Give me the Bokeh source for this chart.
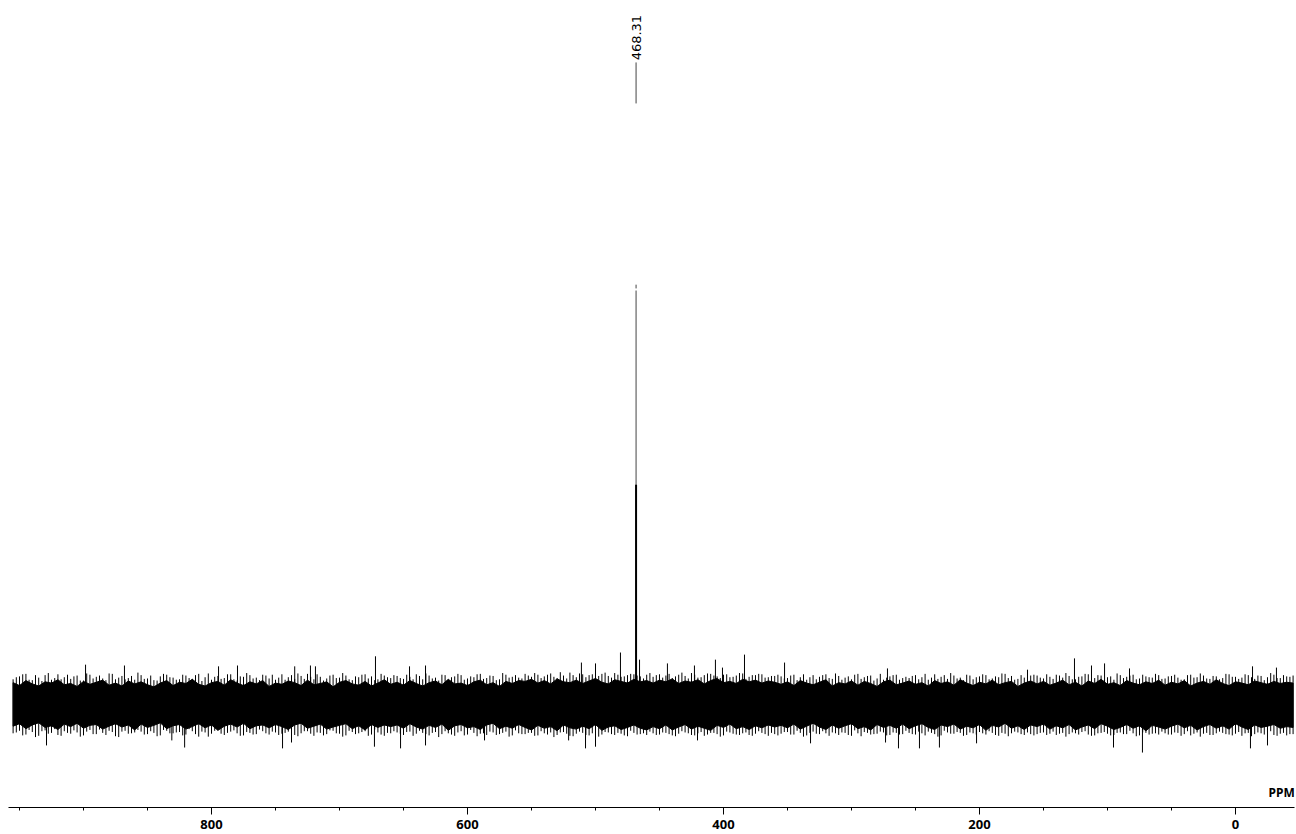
from math import pi
from bokeh.plotting import figure
from bokeh.models import Range1d, SingleIntervalTicker, Label
from bokeh.embed import file_html
from bokeh.resources import INLINE

# ---------------- data (relative intensity, peak = 100) ----------------
peak_ppm = 468.31
peak_label = "468.31"
peak_main_top = 98.8
peak_tip = [99.3, 100.2]
peak_thick_top = 52.4

# sampling grid of the noise band (ppm)
grid_ppm = list(range(955, -46, -5))

# solid core of the noise band: upper edge
top_fill = [
    5.1, 4.4, 5.6, 4.8, 4.3, 5.3, 5.0, 5.8, 4.6, 4.9, 4.2, 5.4, 4.7, 5.2, 5.7, 4.5, 5.0, 4.3, 5.5, 4.8,
    5.3, 4.6, 4.1, 5.0, 5.6, 4.4, 5.2, 4.9, 5.9, 4.7, 4.3, 5.1, 5.4, 4.5, 5.8, 5.0, 4.4, 5.3, 4.8, 5.6,
    4.2, 5.0, 4.7, 5.5, 5.1, 4.4, 5.7, 4.6, 4.9, 5.3, 4.1, 5.2, 5.6, 4.8, 4.5, 5.4, 4.3, 5.0, 5.8, 4.7,
    5.2, 4.5, 5.6, 4.9, 4.3, 5.1, 5.5, 4.6, 5.9, 4.8, 5.0, 4.4, 5.3, 5.7, 4.6, 5.1, 4.2, 5.4, 4.9, 5.6,
    5.4, 5.9, 5.0, 5.6, 4.8, 6.0, 5.3, 5.1, 5.7, 4.9, 5.5, 6.1, 5.2, 4.8, 5.8, 5.4, 5.0, 5.9, 5.3, 5.6,
    5.0, 5.7, 5.3, 6.0, 4.9, 5.5, 5.2, 5.8, 4.8, 5.6, 6.1, 5.1, 5.4, 4.9, 5.9, 5.3, 5.7, 5.0, 5.5, 5.2,
    4.7, 5.3, 4.4, 5.6, 5.0, 4.6, 5.2, 5.8, 4.3, 5.1, 4.8, 5.5, 4.5, 5.4, 4.9, 4.2, 5.3, 5.7, 4.6, 5.0,
    5.5, 4.7, 5.1, 4.3, 5.6, 4.9, 5.3, 4.5, 5.8, 5.0, 4.4, 5.2, 4.8, 5.7, 4.6, 5.1, 5.4, 4.2, 5.0, 5.5,
    4.8, 5.4, 4.5, 5.0, 5.7, 4.6, 5.2, 4.3, 5.5, 4.9, 5.9, 4.7, 5.1, 4.4, 5.6, 5.0, 4.6, 5.3, 4.9, 5.7,
    4.5, 5.2, 4.8, 5.6, 4.3, 5.0, 5.4, 4.7, 5.8, 4.9, 4.4, 5.3, 5.0, 4.6, 5.5, 5.1, 4.7, 5.4, 4.9, 5.2,
    5.0,
]
# solid core of the noise band: lower edge
bot_fill = [
    -5.3, -4.7, -5.9, -5.0, -4.5, -5.6, -5.2, -6.1, -4.8, -5.4, -4.6, -5.8, -5.1, -4.9, -6.0, -5.3, -4.7, -5.5, -5.0, -6.2,
    -4.8, -5.6, -5.1, -4.5, -5.9, -5.2, -4.9, -6.0, -5.4, -4.7, -5.7, -5.0, -6.3, -5.3, -4.8, -5.5, -4.6, -5.9, -5.2, -5.0,
    -5.7, -4.9, -5.4, -6.1, -5.0, -4.6, -5.8, -5.3, -4.8, -6.0, -5.5, -5.1, -4.7, -5.9, -5.2, -6.2, -4.9, -5.6, -5.0, -5.4,
    -5.0, -5.8, -4.7, -5.5, -6.0, -5.1, -5.6, -4.8, -6.3, -5.2, -4.9, -5.7, -5.4, -6.1, -5.0, -4.6, -5.9, -5.3, -5.8, -4.9,
    -5.6, -6.2, -5.1, -5.8, -5.4, -6.4, -5.0, -5.7, -6.0, -5.3, -5.9, -4.9, -6.3, -5.5, -5.2, -6.1, -5.6, -5.0, -5.8, -6.2,
    -5.4, -5.9, -5.0, -6.2, -5.5, -4.9, -6.0, -5.3, -5.8, -6.3, -5.1, -5.6, -4.8, -5.9, -5.4, -6.1, -5.2, -5.7, -5.0, -5.5,
    -5.1, -5.7, -4.8, -6.0, -5.3, -4.6, -5.5, -6.1, -5.0, -5.8, -5.2, -4.7, -5.9, -5.4, -6.2, -4.9, -5.6, -5.1, -5.8, -4.8,
    -5.9, -5.2, -4.7, -5.6, -6.1, -5.0, -5.4, -4.8, -6.0, -5.3, -5.7, -4.9, -6.3, -5.1, -5.5, -4.6, -5.8, -5.2, -6.1, -5.0,
    -5.4, -4.8, -6.0, -5.2, -5.7, -4.9, -6.2, -5.5, -5.0, -5.9, -4.7, -5.3, -6.1, -5.6, -4.9, -5.8, -5.2, -6.4, -5.1, -5.5,
    -6.0, -5.3, -4.8, -5.7, -5.1, -6.2, -5.4, -4.9, -5.8, -5.2, -6.0, -4.7, -5.5, -6.1, -5.0, -5.6, -5.3, -4.9, -5.8, -5.4,
    -5.6,
]
# thin noise maxima half-way between grid points
teeth_top = [
    6.4, 7.1, 5.8, 6.9, 5.5, 7.4, 6.2, 5.9, 7.0, 6.6, 5.6, 7.3, 6.1, 6.8, 5.7, 7.2, 6.3, 5.9, 6.7, 7.5,
    6.0, 6.8, 5.6, 7.2, 6.4, 5.8, 7.0, 6.2, 6.9, 5.5, 7.3, 6.5, 6.0, 7.1, 5.9, 6.6, 7.4, 6.1, 5.7, 6.8,
    7.0, 6.3, 5.8, 6.9, 7.3, 6.0, 6.5, 7.1, 5.6, 6.8, 6.2, 7.4, 5.9, 6.6, 7.0, 6.1, 5.7, 7.2, 6.4, 6.9,
    6.2, 7.0, 5.9, 6.7, 7.3, 6.1, 5.6, 6.9, 6.4, 7.2, 5.8, 6.6, 7.1, 6.0, 6.8, 5.7, 7.4, 6.3, 6.9, 6.1,
    6.8, 7.4, 6.2, 7.0, 6.5, 7.6, 6.1, 6.9, 7.3, 6.4, 7.1, 6.7, 7.5, 6.3, 7.0, 6.6, 7.2, 6.8, 6.1, 7.4,
    6.9, 6.3, 7.2, 6.6, 7.5, 6.1, 7.0, 6.4, 7.3, 6.8, 6.2, 7.1, 6.5, 7.4, 6.0, 6.9, 7.2, 6.3, 6.7, 7.0,
    6.1, 6.8, 5.7, 7.1, 6.4, 5.9, 6.9, 6.2, 7.3, 5.8, 6.6, 7.0, 6.0, 6.7, 5.6, 7.2, 6.3, 6.9, 5.8, 6.5,
    6.7, 5.9, 7.2, 6.3, 6.0, 6.9, 7.4, 6.1, 5.7, 6.8, 6.4, 7.1, 5.9, 6.6, 7.3, 6.2, 5.8, 6.9, 6.5, 7.0,
    6.3, 7.1, 6.0, 6.8, 7.4, 5.9, 6.5, 7.2, 6.1, 6.9, 5.7, 6.6, 7.3, 6.2, 6.8, 5.9, 7.0, 6.4, 7.2, 6.0,
    6.6, 7.0, 5.8, 6.9, 6.3, 7.3, 6.1, 6.7, 5.9, 7.2, 6.5, 6.0, 7.1, 6.4, 6.8, 5.7, 7.4, 6.2, 6.9, 6.5,
    6.6,
]
# thin noise minima half-way between grid points
teeth_bot = [
    -6.8, -7.5, -6.2, -7.9, -6.5, -7.1, -6.0, -7.6, -6.9, -6.3, -7.8, -6.6, -7.2, -6.1, -7.4, -6.7, -7.9, -6.4, -7.0, -6.2,
    -7.3, -6.5, -7.7, -6.2, -7.0, -6.8, -7.5, -6.0, -7.2, -6.6, -7.8, -6.4, -7.1, -6.9, -6.3, -7.6, -6.7, -7.3, -6.1, -7.0,
    -6.6, -7.4, -6.9, -6.2, -7.7, -6.5, -7.1, -6.8, -7.5, -6.3, -7.0, -7.8, -6.4, -7.2, -6.7, -7.6, -6.1, -7.3, -6.9, -6.5,
    -7.1, -6.7, -7.6, -6.4, -7.2, -6.9, -7.9, -6.5, -7.3, -6.8, -7.5, -6.2, -7.7, -7.0, -6.6, -7.4, -6.9, -7.8, -6.3, -7.2,
    -6.9, -7.6, -6.5, -7.3, -7.9, -6.8, -7.1, -7.7, -6.6, -7.4, -7.0, -7.8, -6.7, -7.2, -6.9, -7.5, -6.4, -7.3, -7.0, -6.6,
    -7.4, -6.8, -7.2, -7.7, -6.5, -7.0, -7.5, -6.7, -7.3, -6.9, -7.8, -6.6, -7.1, -7.4, -6.8, -7.6, -6.5, -7.2, -6.9, -7.5,
    -6.7, -7.3, -6.4, -7.8, -6.9, -7.1, -6.5, -7.6, -7.0, -6.8, -7.4, -6.3, -7.7, -6.9, -7.2, -6.6, -7.5, -6.8, -7.3, -6.4,
    -7.2, -6.6, -7.5, -6.9, -7.8, -6.4, -7.1, -6.7, -7.6, -6.8, -7.3, -7.0, -6.5, -7.4, -6.9, -7.7, -6.6, -7.2, -6.8, -7.5,
    -6.9, -7.4, -6.6, -7.1, -7.8, -6.8, -7.3, -6.5, -7.6, -7.0, -6.7, -7.5, -6.9, -7.2, -6.4, -7.7, -6.8, -7.3, -7.0, -6.6,
    -7.3, -6.8, -7.6, -6.5, -7.1, -7.8, -6.9, -7.4, -6.6, -7.2, -7.5, -6.7, -7.0, -7.7, -6.8, -7.3, -6.5, -7.6, -6.9, -7.2,
    -7.1,
]
# thin noise maxima at the grid points
teeth_top2 = [
    5.9, 6.6, 7.2, 5.7, 6.3, 6.9, 5.8, 7.1, 6.4, 6.0, 6.8, 5.6, 7.0, 6.5, 6.1, 7.3, 5.9, 6.7, 6.2, 5.8,
    6.9, 6.1, 5.7, 6.6, 7.0, 6.3, 5.9, 6.8, 6.0, 7.2, 6.4, 5.8, 6.7, 6.2, 7.1, 5.6, 6.5, 6.9, 6.3, 7.0,
    6.1, 5.8, 7.1, 6.4, 6.0, 6.7, 7.2, 5.9, 6.5, 6.1, 7.0, 6.3, 6.8, 5.7, 6.4, 7.1, 6.6, 5.9, 6.8, 6.2,
    6.7, 6.0, 6.5, 7.1, 5.9, 6.8, 6.3, 7.0, 5.8, 6.6, 6.9, 6.1, 6.4, 7.2, 6.2, 6.7, 5.9, 7.0, 6.5, 6.3,
    7.2, 6.5, 7.0, 6.6, 7.3, 6.2, 6.8, 7.5, 6.4, 7.1, 6.9, 6.3, 7.2, 6.7, 7.4, 6.5, 6.9, 7.1, 6.6, 7.0,
    6.5, 7.1, 6.8, 6.2, 7.0, 6.7, 7.4, 6.3, 6.9, 7.2, 6.6, 7.0, 6.4, 6.8, 7.3, 6.5, 6.9, 7.1, 6.4, 6.7,
    6.6, 6.2, 7.0, 6.4, 5.8, 6.9, 6.5, 7.1, 6.0, 6.7, 6.3, 5.9, 7.2, 6.4, 6.8, 6.1, 5.8, 6.6, 7.0, 6.2,
    6.2, 6.9, 6.4, 5.8, 7.1, 6.5, 6.0, 6.8, 6.3, 7.0, 5.9, 6.6, 6.9, 6.1, 6.4, 7.2, 6.7, 6.0, 6.3, 6.8,
    6.8, 6.1, 6.5, 7.0, 6.3, 6.7, 5.9, 6.6, 7.1, 6.2, 6.8, 6.4, 5.8, 6.9, 6.5, 7.0, 6.1, 6.6, 6.3, 6.9,
    6.1, 6.7, 6.3, 5.9, 7.0, 6.4, 6.8, 6.0, 6.6, 6.2, 7.1, 6.5, 6.3, 6.9, 6.0, 6.7, 6.4, 7.0, 6.2, 6.6,
    6.8,
]
# thin noise minima at the grid points
teeth_bot2 = [
    -7.0, -6.4, -7.3, -6.7, -7.6, -6.3, -6.9, -7.4, -6.5, -7.1, -6.8, -7.5, -6.2, -7.2, -6.9, -6.4, -7.7, -6.6, -7.1, -6.8,
    -6.6, -7.2, -6.9, -7.5, -6.4, -7.0, -6.7, -7.3, -6.5, -7.8, -6.8, -7.1, -6.3, -7.4, -6.6, -7.0, -7.5, -6.9, -7.2, -6.5,
    -7.3, -6.8, -7.1, -6.6, -7.4, -7.0, -6.5, -7.6, -6.9, -7.2, -6.4, -7.1, -7.5, -6.7, -7.0, -6.5, -7.3, -6.8, -7.6, -7.0,
    -6.8, -7.4, -6.6, -7.1, -6.9, -7.5, -6.7, -7.2, -7.0, -7.6, -6.5, -7.3, -6.9, -7.1, -7.4, -6.8, -7.2, -6.6, -7.5, -7.0,
    -7.2, -6.9, -7.5, -7.0, -6.8, -7.4, -6.7, -7.6, -7.1, -6.9, -7.5, -7.0, -7.3, -6.8, -7.4, -7.1, -7.7, -6.9, -7.2, -7.4,
    -7.0, -7.3, -6.9, -7.5, -7.1, -6.8, -7.4, -7.0, -7.6, -6.9, -7.2, -7.5, -6.8, -7.3, -7.0, -7.4, -7.1, -6.9, -7.6, -7.2,
    -7.1, -6.7, -7.3, -6.9, -7.5, -6.6, -7.2, -7.0, -6.8, -7.4, -6.9, -7.6, -7.0, -6.7, -7.3, -7.1, -6.8, -7.4, -6.9, -7.2,
    -6.9, -7.3, -7.0, -6.6, -7.2, -7.5, -6.8, -7.1, -6.9, -7.4, -7.0, -6.7, -7.3, -6.9, -7.6, -7.1, -7.0, -6.8, -7.4, -7.2,
    -7.2, -6.8, -7.1, -7.4, -6.9, -7.2, -7.0, -6.7, -7.3, -7.5, -6.9, -7.1, -7.4, -6.8, -7.2, -7.0, -7.5, -6.9, -7.1, -7.3,
    -7.0, -7.3, -6.9, -7.2, -7.5, -6.8, -7.1, -7.4, -7.0, -6.9, -7.3, -7.1, -7.6, -6.9, -7.2, -7.0, -6.8, -7.4, -7.1, -7.5,
    -7.2,
]
# prominent noise spikes
spike_up_ppm = [898.4, 868.0, 794.5, 779.7, 735.0, 722.7, 718.8, 671.9, 645.3, 632.8, 511.0, 500.0,
                480.5, 465.6, 443.8, 422.7, 406.3, 400.8, 383.6, 352.3, 271.9, 162.5, 125.8, 112.5,
                102.3, 82.8, -13.3, -32.0]
spike_up_val = [9.4, 9.2, 9.0, 9.2, 9.0, 9.2, 9.0, 11.4, 9.0, 9.2, 9.9, 9.7,
                12.3, 10.6, 9.7, 9.2, 10.6, 8.7, 11.8, 9.9, 8.5, 8.2, 10.9, 9.2,
                9.7, 8.5, 9.0, 8.7]
spike_dn_ppm = [928.9, 831.0, 821.0, 744.5, 737.5, 672.7, 652.3, 632.8, 586.7, 521.0, 507.8, 500.0,
                420.3, 332.0, 273.4, 263.3, 246.9, 231.3, 202.3, 95.3, 72.7, -11.7, -25.0]
spike_dn_val = [-9.9, -8.7, -10.4, -10.6, -9.2, -10.2, -10.6, -9.9, -8.7, -8.7, -10.6, -10.2,
                -8.7, -9.4, -9.2, -10.6, -10.6, -10.4, -9.4, -10.4, -11.6, -10.6, -9.9]

# x axis
x_start, x_end = 958.6, -46.1
tick_interval = 200
axis_unit = "PPM"

# ---------------- figure ----------------
p = figure(width=1296, height=834,
           x_range=Range1d(x_start, x_end), y_range=Range1d(-24.73, 168.10),
           output_backend="svg", toolbar_location=None,
           y_axis_location=None,
           min_border_left=8, min_border_right=2, min_border_top=0, min_border_bottom=27)
p.grid.visible = False
p.outline_line_color = None
p.background_fill_color = "white"
p.border_fill_color = "white"

teeth_x = [g - 2.5 for g in grid_ppm]
zeros = [0] * len(grid_ppm)

# thin extremes (drawn first, the solid core covers their inner parts)
p.segment(x0=teeth_x, y0=zeros, x1=teeth_x, y1=teeth_top, line_color="black", line_width=1)
p.segment(x0=teeth_x, y0=zeros, x1=teeth_x, y1=teeth_bot, line_color="black", line_width=1)
p.segment(x0=grid_ppm, y0=zeros, x1=grid_ppm, y1=teeth_top2, line_color="black", line_width=1)
p.segment(x0=grid_ppm, y0=zeros, x1=grid_ppm, y1=teeth_bot2, line_color="black", line_width=1)
p.segment(x0=spike_up_ppm, y0=[0] * len(spike_up_ppm), x1=spike_up_ppm, y1=spike_up_val,
          line_color="black", line_width=1)
p.segment(x0=spike_dn_ppm, y0=[0] * len(spike_dn_ppm), x1=spike_dn_ppm, y1=spike_dn_val,
          line_color="black", line_width=1)

# the peak
p.segment(x0=[peak_ppm], y0=[0], x1=[peak_ppm], y1=[peak_main_top], line_color="#444444", line_width=1)
p.segment(x0=[peak_ppm], y0=[peak_tip[0]], x1=[peak_ppm], y1=[peak_tip[1]], line_color="#444444", line_width=1)
p.segment(x0=[peak_ppm], y0=[0], x1=[peak_ppm], y1=[peak_thick_top], line_color="black", line_width=2)

# core band as one closed outline: along the upper edge, back along the lower edge
core_x = grid_ppm + grid_ppm[::-1]
core_y = top_fill + bot_fill[::-1]
p.patch(x=core_x, y=core_y, fill_color="black", fill_alpha=1.0, line_color="black", line_width=1)

# peak annotation
p.segment(x0=[peak_ppm], y0=[143.5], x1=[peak_ppm], y1=[153.3], line_color="#444444", line_width=1)
p.add_layout(Label(x=peak_ppm, y=153.8, text=peak_label, angle=pi / 2,
                   text_align="left", text_baseline="middle",
                   text_font="DejaVu Sans", text_font_size="13px", text_color="black"))

# unit label
p.add_layout(Label(x=-25.8, y=-23.2, text=axis_unit, text_align="left", text_baseline="bottom",
                   text_font="Noto Sans", text_font_style="bold", text_font_size="12px",
                   text_color="black"))

ax = p.xaxis[0]
ax.ticker = SingleIntervalTicker(interval=tick_interval, num_minor_ticks=4)
ax.axis_line_color = "black"
ax.axis_line_width = 1
ax.major_tick_out = 7
ax.major_tick_in = 0
ax.minor_tick_out = 3
ax.minor_tick_in = 0
ax.major_tick_line_color = "black"
ax.minor_tick_line_color = "black"
ax.major_label_standoff = 5
ax.major_label_text_font = "Noto Sans"
ax.major_label_text_font_style = "bold"
ax.major_label_text_font_size = "13px"
ax.major_label_text_color = "black"

open("out.html", "w").write(file_html(p, INLINE))
